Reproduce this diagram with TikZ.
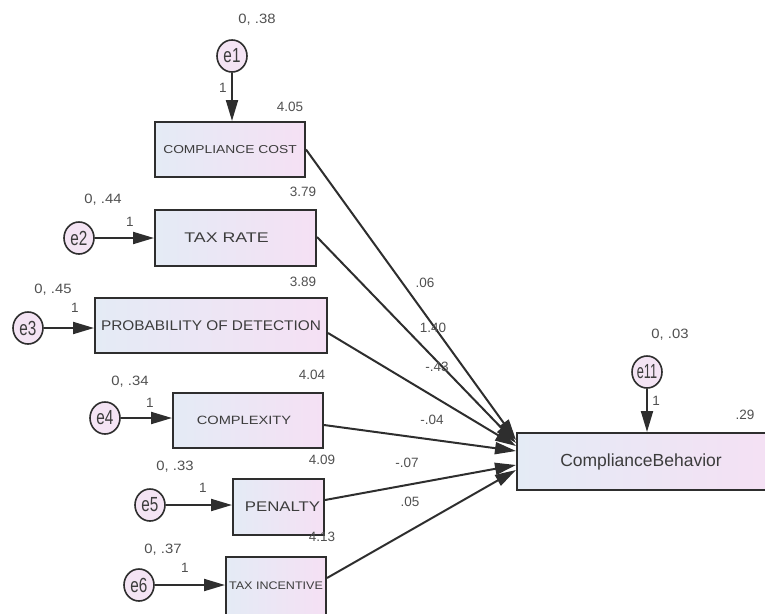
\documentclass[tikz,border=0pt]{standalone}
\usepackage{fontspec}
\setmainfont{Liberation Sans}
\usepackage{graphicx}
\usetikzlibrary{arrows.meta,shapes.geometric}
\definecolor{ln}{HTML}{2E2E2E}
\definecolor{tx}{HTML}{3C3C3C}
\definecolor{nm}{HTML}{505050}
\definecolor{bxl}{HTML}{E4EBF5}
\definecolor{bxr}{HTML}{F5E0F4}
\definecolor{efill}{HTML}{F4E4F4}
\newcommand{\wtxt}[3]{\scalebox{#2}[1]{\fontsize{#1}{#1}\selectfont #3}}
\newcommand{\etx}[1]{\scalebox{0.9}[1.2]{\fontsize{17}{17}\selectfont #1}}
\begin{document}
\begin{tikzpicture}[x=1pt,y=-1pt,
  obs/.style={draw=ln, line width=2pt, left color=bxl, right color=bxr, inner sep=0pt, text=tx},
  err/.style={ellipse, draw=ln, line width=1.6pt, fill=efill, minimum width=30pt, minimum height=32pt, inner sep=0pt, text=tx},
  path/.style={draw=ln, line width=2pt, -{Triangle[length=21pt,width=12pt]}},
  num/.style={text=nm, inner sep=0pt, font=\fontsize{13.5}{13.5}\selectfont}
]
\useasboundingbox (0,0) rectangle (765,613);
\clip (0,0) rectangle (765,613);

% observed variables
\node[obs, minimum width=150pt, minimum height=55pt] (b1) at (230,149.5) {\wtxt{11.5}{1.2}{COMPLIANCE COST}};
\node[obs, minimum width=161pt, minimum height=56pt] (b2) at (235.5,238) {\hspace*{-18pt}\wtxt{14}{1.27}{TAX RATE}};
\node[obs, minimum width=232pt, minimum height=55pt] (b3) at (211,325.5) {\wtxt{14}{1.1}{PROBABILITY OF DETECTION}};
\node[obs, minimum width=150pt, minimum height=55pt] (b4) at (248,420.5) {\hspace*{-8pt}\wtxt{12}{1.22}{COMPLEXITY}};
\node[obs, minimum width=91pt, minimum height=56pt] (b5) at (278.5,507) {\wtxt{14}{1.2}{PENALTY}\hspace*{-8pt}};
\node[obs, minimum width=100pt, minimum height=60pt] (b6) at (276,587) {\raisebox{2pt}{\wtxt{11}{1.14}{TAX INCENTIVE}}};
\node[obs, minimum width=258pt, minimum height=57pt] (cb) at (646,461.5) {\hspace*{-10pt}\wtxt{17.5}{1}{ComplianceBehavior}};

% error terms
\node[err] (e1) at (232,56) {\etx{e1}};
\node[err] (e2) at (79,238) {\etx{e2}};
\node[err] (e3) at (28,328) {\etx{e3}};
\node[err] (e4) at (105,418) {\etx{e4}};
\node[err] (e5) at (150,505) {\etx{e5}};
\node[err] (e6) at (139,585) {\etx{e6}};
\node[err] (e11) at (647,372) {\scalebox{0.75}[1.2]{\fontsize{17}{17}\selectfont e11}};

% error arrows
\draw[path] (e1) -- (e1 |- b1.north);
\draw[path] (e2) -- (e2 -| b2.west);
\draw[path] (e3) -- (e3 -| b3.west);
\draw[path] (e4) -- (e4 -| b4.west);
\draw[path] (e5) -- (e5 -| b5.west);
\draw[path] (e6) -- (e6 -| b6.west);
\draw[path] (e11) -- (e11 |- cb.north);

% structural paths
\draw[path] (b1.east) -- ([yshift=21.5pt]cb.west);
\draw[path] ([yshift=1pt]b2.east) -- ([yshift=18.5pt]cb.west);
\draw[path] ([yshift=-7.5pt]b3.east) -- ([yshift=15.5pt]cb.west);
\draw[path] ([yshift=-4.5pt]b4.east) -- ([yshift=10.5pt]cb.west);
\draw[path] ([yshift=7pt]b5.east) -- ([yshift=-3.5pt]cb.west);
\draw[path] ([yshift=9pt]b6.east) -- ([yshift=-8.5pt]cb.west);

% variance labels
\node[num] (v1) at (257,20) {\scalebox{1.1}[1]{0, .38}};
\node[num] (v2) at (103,200) {\scalebox{1.1}[1]{0, .44}};
\node[num] (v3) at (53,290) {\scalebox{1.1}[1]{0, .45}};
\node[num] (v4) at (130,382) {\scalebox{1.1}[1]{0, .34}};
\node[num] (v5) at (175,467) {\scalebox{1.1}[1]{0, .33}};
\node[num] (v6) at (163,550) {\scalebox{1.1}[1]{0, .37}};
\node[num] (v11) at (670,335) {\scalebox{1.1}[1]{0, .03}};

% regression weight 1 labels
\node[num] (w1) at (223,88) {1};
\node[num] (w2) at (130,222) {1};
\node[num] (w3) at (75,308) {1};
\node[num] (w4) at (150,403) {1};
\node[num] (w5) at (203,488) {1};
\node[num] (w6) at (185,568) {1};
\node[num] (w11) at (656,401) {1};

% intercepts
\node[num] (i1) at (290,107) {4.05};
\node[num] (i2) at (303,192) {3.79};
\node[num] (i3) at (303,282) {3.89};
\node[num] (i4) at (312,375) {4.04};
\node[num] (i5) at (322,460) {4.09};
\node[num] (i6) at (322,537) {4.13};
\node[num] (i11) at (745,415) {.29};

% path coefficients
\node[num] (p1) at (425,283) {.06};
\node[num] (p2) at (433,328) {1.40};
\node[num] (p3) at (437,367) {-.43};
\node[num] (p4) at (432,420) {-.04};
\node[num] (p5) at (407,463) {-.07};
\node[num] (p6) at (410,502) {.05};
\end{tikzpicture}
\end{document}
